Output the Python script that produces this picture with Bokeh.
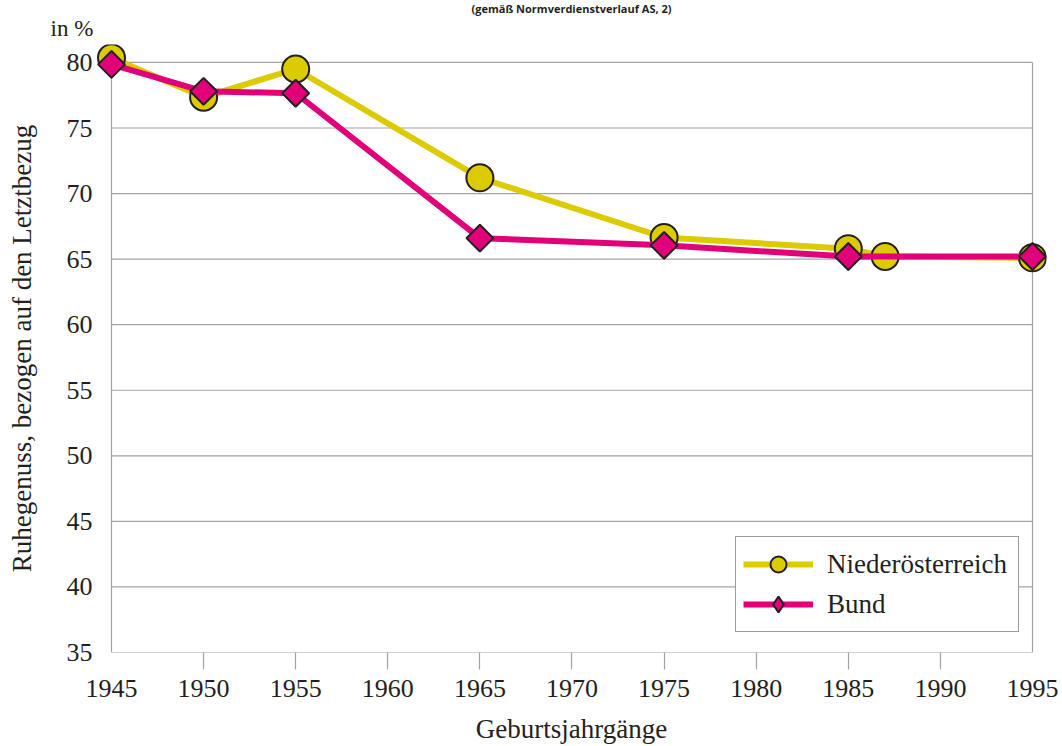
import math
from bokeh.plotting import figure
from bokeh.models import FixedTicker, Title, Legend, LegendItem
from bokeh.embed import file_html
from bokeh.resources import INLINE

# ---- data ----
years_noe = [1945, 1950, 1955, 1965, 1975, 1985, 1987, 1995]
vals_noe = [80.35, 77.35, 79.5, 71.2, 66.65, 65.8, 65.2, 65.1]
years_bund = [1945, 1950, 1955, 1965, 1975, 1985, 1995]
vals_bund = [79.85, 77.8, 77.65, 66.6, 66.05, 65.2, 65.2]
x_ticks = [1945, 1950, 1955, 1960, 1965, 1970, 1975, 1980, 1985, 1990, 1995]
x_inner_ticks = [1950, 1955, 1960, 1965, 1970, 1975, 1980, 1985, 1990]
y_ticks = [35, 40, 45, 50, 55, 60, 65, 70, 75, 80]
series_names = ["Niederösterreich", "Bund"]
title_text = "(gemäß Normverdienstverlauf AS, 2)"

YELLOW = "#dccb00"
MAGENTA = "#e2007a"
OUTLINE = "#231f20"
GRID = "#a3a3a3"
TEXT = "#231f20"
SERIF = "Liberation Serif"

p = figure(width=1062, height=746,
           x_range=(1944.186, 1995.76), y_range=(35, 81.368),
           output_backend="svg", toolbar_location=None,
           min_border_left=96, min_border_right=16,
           min_border_top=44, min_border_bottom=92)
p.outline_line_color = None
p.xgrid.visible = False
p.ygrid.visible = False

# titles (top)
p.title.text = title_text
p.title.align = "center"
p.title.text_font = "Open Sans"
p.title.text_font_size = "11px"
p.title.text_font_style = "bold"
p.title.text_color = TEXT
p.title.standoff = -4
p.add_layout(Title(text="in %", align="left", offset=-46, text_font=SERIF,
                   text_font_size="23px", text_font_style="normal",
                   text_color=TEXT, standoff=4, vertical_align="top"), "above")

# grid lines and frame from ticks
x0 = x_ticks[0]
x1 = x_ticks[-1]
p.segment(x0=[x0] * len(y_ticks), x1=[x1] * len(y_ticks), y0=y_ticks, y1=y_ticks,
          line_color=GRID, line_width=1.2)
p.segment(x0=[x0, x1], x1=[x0, x1], y0=[y_ticks[0]] * 2, y1=[y_ticks[-1]] * 2,
          line_color=GRID, line_width=1.2)

# axes
xa = p.xaxis[0]
xa.ticker = FixedTicker(ticks=x_ticks, minor_ticks=x_inner_ticks)
xa.axis_line_color = None
xa.major_tick_out = 0
xa.major_tick_in = 0
xa.minor_tick_out = 17
xa.minor_tick_in = 0
xa.minor_tick_line_color = GRID
xa.minor_tick_line_width = 1.2
xa.major_label_standoff = 10
xa.major_label_text_font = SERIF
xa.major_label_text_font_size = "26px"
xa.major_label_text_color = TEXT
xa.axis_label = "Geburtsjahrgänge"
xa.axis_label_text_font = SERIF
xa.axis_label_text_font_size = "27px"
xa.axis_label_text_font_style = "normal"
xa.axis_label_text_color = TEXT
xa.axis_label_standoff = 14

ya = p.yaxis[0]
ya.ticker = FixedTicker(ticks=y_ticks)
ya.axis_line_color = None
ya.major_tick_out = 0
ya.major_tick_in = 0
ya.minor_tick_out = 0
ya.minor_tick_in = 0
ya.major_label_standoff = 4
ya.major_label_text_font = SERIF
ya.major_label_text_font_size = "26px"
ya.major_label_text_color = TEXT
ya.axis_label = "Ruhegenuss, bezogen auf den Letztbezug"
ya.axis_label_text_font = SERIF
ya.axis_label_text_font_size = "27px"
ya.axis_label_text_font_style = "normal"
ya.axis_label_text_color = TEXT
ya.axis_label_standoff = 27

# series
l1 = p.line(years_noe, vals_noe, line_color=YELLOW, line_width=6)
s1 = p.scatter(years_noe, vals_noe, marker="circle", size=27,
               fill_color=YELLOW, line_color=OUTLINE, line_width=2)
l2 = p.line(years_bund, vals_bund, line_color=MAGENTA, line_width=6)
s2 = p.scatter(years_bund, vals_bund, marker="square", angle=math.pi / 4, size=19,
               fill_color=MAGENTA, line_color=OUTLINE, line_width=2)
# legend key glyph for Bund (legend markers are drawn unrotated), hidden in the plot
s2_key = p.scatter(years_bund[:1], vals_bund[:1], marker="diamond", size=19,
                   fill_color=MAGENTA, line_color=OUTLINE, line_width=2,
                   visible=False)

legend = Legend(items=[LegendItem(label=series_names[0], renderers=[l1, s1]),
                       LegendItem(label=series_names[1], renderers=[l2, s2_key])],
                location=(639, 20))
legend.glyph_width = 70
legend.glyph_height = 40
legend.padding = 7
legend.spacing = 0
legend.margin = 0
legend.label_standoff = 14
legend.label_width = 184
legend.label_text_font = SERIF
legend.label_text_font_size = "27px"
legend.label_text_color = TEXT
legend.border_line_color = "#3a3a3a"
legend.border_line_width = 1.5
legend.background_fill_color = "white"
legend.background_fill_alpha = 1
p.add_layout(legend, "center")

open("out.html", "w").write(file_html(p, INLINE))
